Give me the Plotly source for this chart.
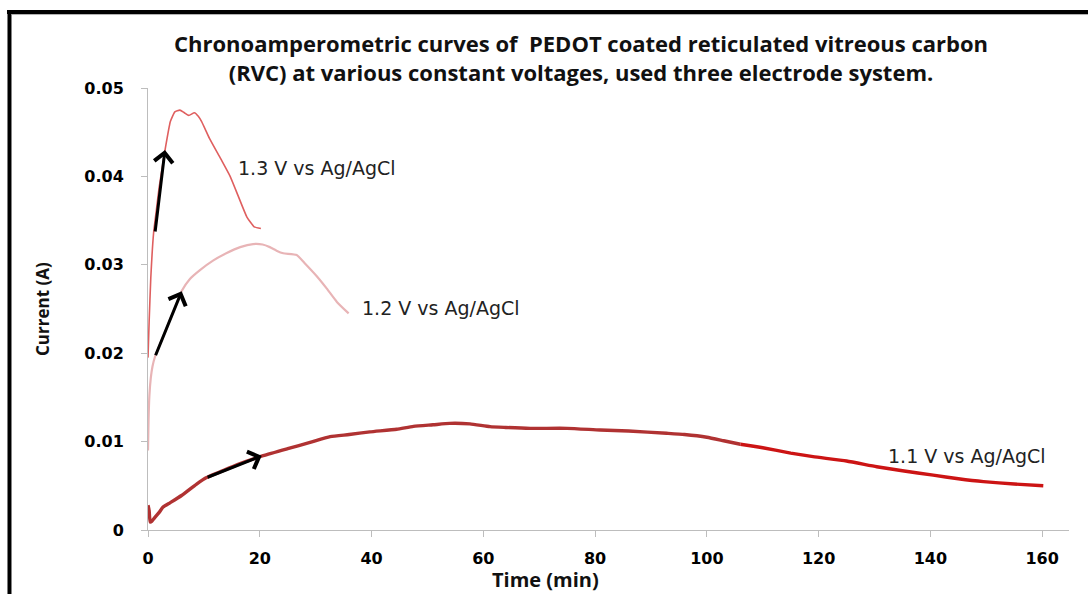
import plotly.graph_objects as go

# ---------------- data ----------------
t_13 = [0, 0.2, 0.5, 1.0, 1.5, 2.0, 3.0, 4.0, 4.8, 5.7, 6.5, 7.3, 8.3, 9.0, 9.6,
        11, 13, 14.7, 16, 17.7, 19, 20.2]
i_13 = [0.0195, 0.0235, 0.0285, 0.0336, 0.0362, 0.0388, 0.0428, 0.0462, 0.0473,
        0.0475, 0.0472, 0.0469, 0.0472, 0.0468, 0.0462, 0.0443, 0.0420, 0.0400,
        0.0380, 0.0354, 0.0343, 0.0341]

t_12 = [0, 0.1, 0.25, 0.5, 0.8, 1.25, 2, 3, 4, 5, 6, 7.5, 9.3, 11.7, 14, 16.5,
        18.8, 20.5, 21.8, 23, 24.2, 26.6, 28, 30.2, 32, 33.8, 35.9]
i_12 = [0.0090, 0.0125, 0.0152, 0.0172, 0.0185, 0.0196, 0.0208, 0.0223, 0.0239,
        0.0254, 0.0270, 0.0284, 0.0294, 0.0305, 0.0313, 0.0320, 0.03235, 0.0323,
        0.0320, 0.0316, 0.0313, 0.0311, 0.0302, 0.0287, 0.0273, 0.0258, 0.0245]

t_11 = [0, 0.2, 0.4, 0.7, 1.2, 2, 2.7, 4, 6, 8.7, 10.4, 13, 16, 20.6, 25, 29,
        32.6, 36, 39.7, 44.5, 47.5, 51, 54, 57.6, 61.2, 64, 68.4, 75, 80.9, 86,
        92.8, 96, 100, 103, 106, 110, 115, 119, 125, 130.4, 135, 140.5, 145,
        149.5, 155, 160.2]
i_11 = [0.0028, 0.0022, 0.0009, 0.0010, 0.0014, 0.0020, 0.0026, 0.0031, 0.0039,
        0.0052, 0.0059, 0.0066, 0.0074, 0.0084, 0.0092, 0.0099, 0.01056, 0.0108,
        0.0111, 0.0114, 0.01172, 0.0119, 0.01206, 0.0120, 0.01169, 0.0116,
        0.0115, 0.0115, 0.01131, 0.0112, 0.01094, 0.0108, 0.01049, 0.0101,
        0.0097, 0.0093, 0.0087, 0.0083, 0.0078, 0.00716, 0.0067, 0.0062, 0.0058,
        0.00547, 0.0052, 0.0050]
split_t_11 = 106  # colour of the 1.1 V trace changes here

x_ticks = [0, 20, 40, 60, 80, 100, 120, 140, 160]
y_ticks = [0, 0.01, 0.02, 0.03, 0.04, 0.05]
y_ticktext = ["0", "0.01", "0.02", "0.03", "0.04", "0.05"]

# arrows: (tail_t, tail_i, head_t, head_i)
arrows = [
    (1.25, 0.0336, 3.04, 0.0430),
    (1.25, 0.0196, 6.03, 0.0270),
    (10.4, 0.0059, 20.35, 0.0084),
]
labels = [
    ("1.3 V vs Ag/AgCl", 30.3, 0.04095),
    ("1.2 V vs Ag/AgCl", 52.5, 0.02511),
    ("1.1 V vs Ag/AgCl", 146.6, 0.00837),
]

title_text = ("Chronoamperometric curves of  PEDOT coated reticulated vitreous carbon"
              "<br>(RVC) at various constant voltages, used three electrode system.")

# ---------------- figure ----------------
fig = go.Figure()

fig.add_trace(go.Scatter(x=t_12, y=i_12, mode="lines",
                         line=dict(color="#e8b4b6", width=2.2, shape="spline",
                                   smoothing=0.5), hoverinfo="skip"))
fig.add_trace(go.Scatter(x=t_13, y=i_13, mode="lines",
                         line=dict(color="#df5f5f", width=1.6, shape="spline",
                                   smoothing=0.4), hoverinfo="skip"))

t_a = [t for t in t_11 if t <= split_t_11]
i_a = [v for t, v in zip(t_11, i_11) if t <= split_t_11]
t_b = [t for t in t_11 if t >= split_t_11]
i_b = [v for t, v in zip(t_11, i_11) if t >= split_t_11]
fig.add_trace(go.Scatter(x=t_a, y=i_a, mode="lines",
                         line=dict(color="#b03232", width=3.4, shape="spline",
                                   smoothing=0.5), hoverinfo="skip"))
fig.add_trace(go.Scatter(x=t_b, y=i_b, mode="lines",
                         line=dict(color="#cc1414", width=3.4, shape="spline",
                                   smoothing=0.5), hoverinfo="skip"))

for (tx, ty, hx, hy) in arrows:
    fig.add_annotation(x=hx, y=hy, ax=tx, ay=ty, xref="x", yref="y",
                       axref="x", ayref="y", text="", showarrow=True,
                       arrowhead=4, arrowsize=1.2, arrowwidth=3,
                       arrowcolor="black", standoff=0, startstandoff=0)

for (txt, lx, ly) in labels:
    fig.add_annotation(x=lx, y=ly, xref="x", yref="y", text=txt,
                       showarrow=False, xanchor="center", yanchor="middle",
                       font=dict(family="DejaVu Sans", size=19, color="#222222"))

# title
fig.add_annotation(x=0.470, y=1.069, xref="paper", yref="paper", text=title_text,
                   showarrow=False, xanchor="center", yanchor="middle",
                   font=dict(family="Open Sans", size=22, color="#111111", weight="bold"))
# axis titles
fig.add_annotation(x=0.4317, y=-0.1109, xref="paper", yref="paper", text="Time (min)",
                   showarrow=False, xanchor="center", yanchor="middle",
                   font=dict(family="Open Sans", size=20, color="#111111", weight="bold"))
fig.add_annotation(x=-0.1151, y=0.5, xref="paper", yref="paper", text="Current (A)",
                   showarrow=False, xanchor="center", yanchor="middle", textangle=-90,
                   font=dict(family="Open Sans", size=17, color="#111111", weight="bold"))

# frame (top + left black border with light shadow)
fig.add_shape(type="line", xref="paper", yref="paper", x0=-0.1531, x1=1.05,
              y0=1.1719, y1=1.1719, line=dict(color="black", width=4))
fig.add_shape(type="line", xref="paper", yref="paper", x0=-0.1504, x1=-0.1504,
              y0=1.1765, y1=-0.2, line=dict(color="black", width=4))
fig.add_shape(type="line", xref="paper", yref="paper", x0=-0.148, x1=1.05,
              y0=1.1662, y1=1.1662, line=dict(color="#b0b0b0", width=1))

axis_common = dict(showline=True, linecolor="#bdbdbd", linewidth=1, showgrid=False,
                   zeroline=False, ticks="outside", tickcolor="#bdbdbd", ticklen=6,
                   tickwidth=1,
                   tickfont=dict(family="DejaVu Sans", size=16, color="black",
                                 weight="bold"))

fig.update_xaxes(range=[0, 164.8], tickvals=x_ticks, ticklabelstandoff=8,
                 **axis_common)
fig.update_yaxes(range=[0, 0.05], tickvals=y_ticks, ticktext=y_ticktext,
                 ticklabelstandoff=14, **axis_common)

fig.update_layout(width=1088, height=594, showlegend=False,
                  margin=dict(l=148, r=19, t=88, b=64),
                  paper_bgcolor="white", plot_bgcolor="white")

fig.write_html("out.html")
